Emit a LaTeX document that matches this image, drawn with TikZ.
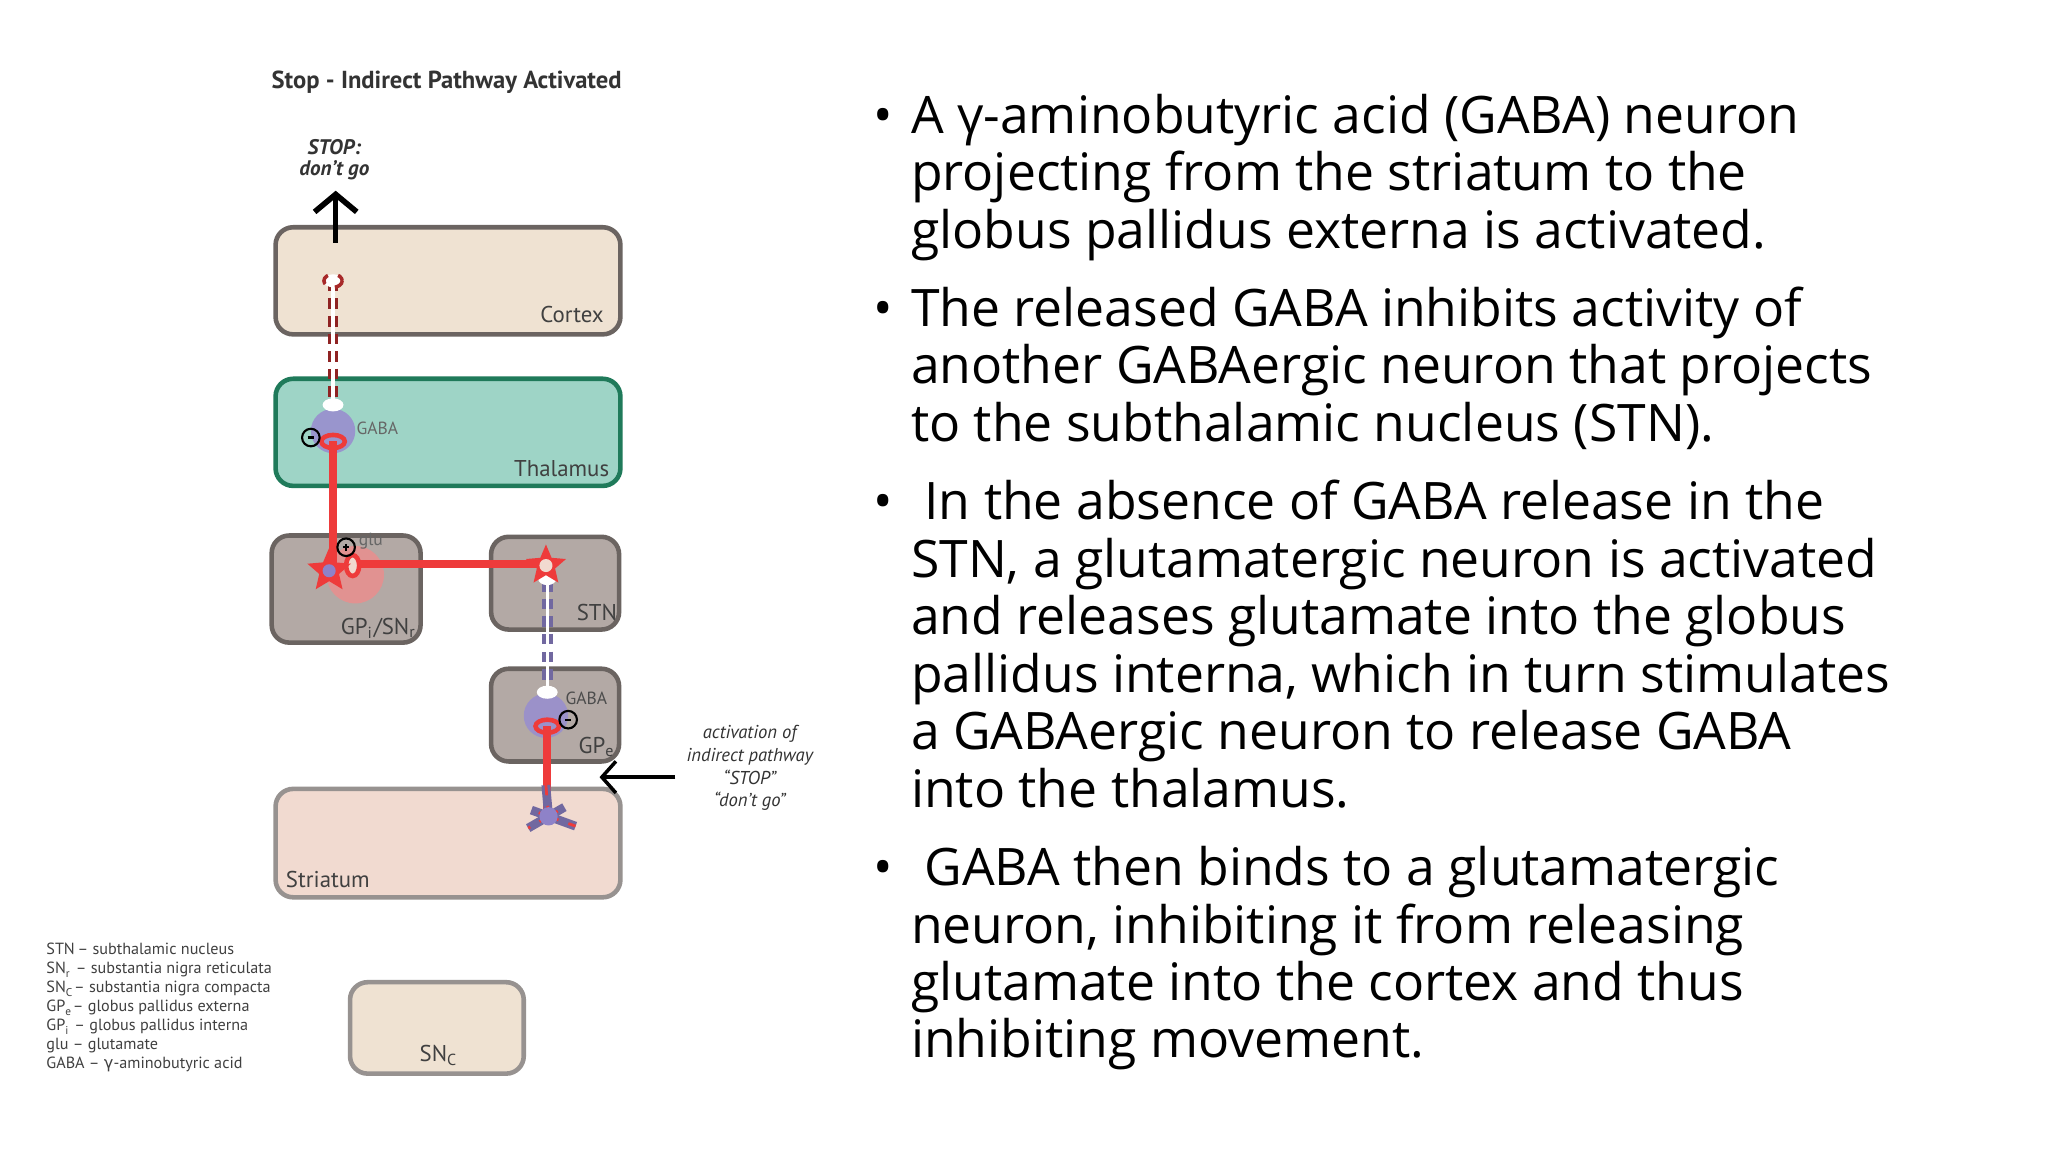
\documentclass[tikz,border=0pt]{standalone}
\usepackage{fontspec}
\setmainfont{Open Sans}
\newfontfamily\dfont{PT Sans}
\newfontfamily\gfont{DejaVu Sans}
\usetikzlibrary{shapes.geometric,arrows.meta}
\definecolor{bord}{HTML}{6B6461}
\definecolor{beige}{HTML}{EFE2D2}
\definecolor{teal1}{HTML}{9ED4C6}
\definecolor{teal2}{HTML}{1F7A5A}
\definecolor{grayb}{HTML}{B3A9A5}
\definecolor{pinkb}{HTML}{F1DAD0}
\definecolor{nred}{HTML}{EE3B3B}
\definecolor{npurp}{HTML}{8E82C8}
\begin{document}
\begin{tikzpicture}[x=0.013061cm,y=-0.013061cm,
 box/.style={draw=bord,line width=1.3pt,rounded corners=5pt},
 lab/.style={font=\dfont\fontsize{6.5}{7}\selectfont,text=black!75},
 leg/.style={font=\dfont\fontsize{4.6}{5}\selectfont,text=black!75,anchor=base west,inner sep=0pt},
 bl/.style={font=\fontsize{14.7}{16}\selectfont,anchor=base west,inner sep=0pt},
 sgn/.style={circle,draw=black,line width=0.6pt,inner sep=0pt,minimum size=5pt}]
\useasboundingbox (0,0) rectangle (1568,882);
\fill[white] (0,0) rectangle (1568,882);
% title
\node[font=\dfont\bfseries\fontsize{7}{8}\selectfont,text=black!80] (title) at (342,63) {Stop - Indirect Pathway Activated};
\node[font=\dfont\bfseries\itshape\fontsize{6}{7}\selectfont,align=center,text=black!80] (stop) at (256,122) {STOP:\\[-1pt]don’t go};
% boxes
\path[box,fill=beige] (211,174) rectangle (475,256);
\path[box,fill=teal1,draw=teal2] (211,290) rectangle (475,372);
\path[box,fill=grayb] (208,410) rectangle (322,492);
\path[box,fill=grayb] (376,411) rectangle (474,482);
\path[box,fill=grayb] (376,512) rectangle (474,583);
\path[box,fill=pinkb,draw=bord!70] (211,604) rectangle (475,687);
\path[box,fill=beige,draw=bord!70] (268,752) rectangle (401,822);
\node[lab] (lc) at (438,241) {Cortex};
\node[lab] (lt) at (430,359) {Thalamus};
\node[lab] (lg) at (290,481) {GP\textsubscript{i}/SN\textsubscript{r}};
\node[lab] (ls) at (457,469) {STN};
\node[lab] (le) at (457,572) {GP\textsubscript{e}};
\node[lab] (lst) at (251,673) {Striatum};
\node[lab] (lsn) at (336,808) {SN\textsubscript{C}};
% arrow up
\coordinate (au1) at (257,186); \coordinate (au2) at (257,146);
\draw[line width=1.6pt,-{Straight Barb[length=5pt,width=12pt]}] (au1) -- (au2);
% neurons
\fill[nred!60,opacity=0.7] (272,440) circle (22);
\fill[npurp!90,opacity=0.9] (255,330) circle (17);
\fill[npurp!90,opacity=0.9] (418,548) circle (17);
\coordinate (t1) at (255,215); \coordinate (t2) at (255,312);
\draw[nred!60!black,line width=3pt,dash pattern=on 3pt off 2pt] (t1) -- (t2);
\draw[white,line width=1pt] (t1) -- (t2);
\draw[nred!70!black,dashed,line width=1pt,fill=white] (255,215) ellipse (7 and 5);
\fill[white] (255,310) ellipse (8 and 5);
\coordinate (s1) at (419,445); \coordinate (s2) at (419,528);
\draw[npurp!80!black,line width=3pt,dash pattern=on 3pt off 2pt] (s1) -- (s2);
\draw[white,line width=1pt] (s1) -- (s2);
\fill[white] (419,530) ellipse (8 and 5);
\fill[white] (419,443) ellipse (7 and 5);
\coordinate (r1) at (255,338); \coordinate (r2) at (255,437);
\coordinate (h1) at (268,432); \coordinate (h2) at (416,432);
\coordinate (g1) at (419,556); \coordinate (g2) at (419,625);
\draw[nred,line width=2.4pt] (r1) -- (r2);
\draw[nred,line width=2.4pt] (h1) -- (h2);
\draw[nred,line width=2.4pt] (g1) -- (g2);
\draw[nred,line width=1.3pt] (255,338) ellipse (9 and 5);
\draw[nred,line width=1.3pt] (419,556) ellipse (9 and 5);
\draw[nred,line width=1.3pt,fill=pinkb] (270,433) ellipse (5 and 8);
\node[star,star points=5,star point ratio=2.2,fill=nred,minimum size=13pt,inner sep=0pt] (st1) at (252,437) {};
\fill[npurp] (252,437) circle (5);
\node[star,star points=5,star point ratio=2.2,fill=nred,minimum size=12pt,inner sep=0pt] (st2) at (418,433) {};
\fill[pinkb] (418,433) circle (5);
% striatum neuron
\foreach \a/\l in {20/22,150/18,200/14,265/24,330/14}{\draw[npurp!80!black,line width=2.5pt] (420,625) -- ++(\a:\l);\draw[nred,line width=0.8pt,dashed] (420,625) -- ++(\a:\l);}
\fill[npurp] (420,625) circle (7);
% signs
\node[sgn] (m1) at (238,335) {}; \draw[line width=0.6pt] (235.5,335) -- (240.5,335);
\node[sgn] (p1) at (265,419) {}; \draw[line width=0.6pt] (262.5,419) -- (267.5,419) (265,416.5) -- (265,421.5);
\node[sgn] (m2) at (435,551) {}; \draw[line width=0.6pt] (432.5,551) -- (437.5,551);
\node[lab,font=\dfont\fontsize{5}{6}\selectfont,text=black!60] (ga1) at (289,328) {GABA};
\node[lab,font=\dfont\fontsize{5}{6}\selectfont,text=black!60] (glu) at (284,414) {glu};
\node[lab,font=\dfont\fontsize{5}{6}\selectfont,text=black!70] (ga2) at (449,535) {GABA};
% side arrow
\coordinate (sa1) at (517,595); \coordinate (sa2) at (459,595);
\draw[line width=1pt,-{Straight Barb[length=4pt,width=9pt]}] (sa1) -- (sa2);
\node[font=\dfont\itshape\fontsize{5.3}{6.5}\selectfont,align=center,text=black!80] (act) at (574,588) {activation of\\indirect pathway\\“STOP”\\“don’t go”};
% legend
\node[leg] at (35,731) {STN\,– subthalamic nucleus};
\node[leg] at (35,745.5) {SN\textsubscript{r} – substantia nigra reticulata};
\node[leg] at (35,760) {SN\textsubscript{C}– substantia nigra compacta};
\node[leg] at (35,774.5) {GP\textsubscript{e}– globus pallidus externa};
\node[leg] at (35,789) {GP\textsubscript{i} – globus pallidus interna};
\node[leg] at (35,803.5) {glu – glutamate};
\node[leg] at (35,818) {GABA – {\gfont γ}-aminobutyric acid};
% bullets
\foreach \y in {90,238,386,666}{\node[bl] at (668,\y+12) {•};}
\foreach \y/\t in {90/{A γ-aminobutyric acid (GABA) neuron},134/{projecting from the striatum to the},178/{globus pallidus externa is activated.},
238/{The released GABA inhibits activity of},282/{another GABAergic neuron that projects},326/{to the subthalamic nucleus (STN).},
386/{\ In the absence of GABA release in the},430/{STN, a glutamatergic neuron is activated},474/{and releases glutamate into the globus},518/{pallidus interna, which in turn stimulates},562/{a GABAergic neuron to release GABA},606/{into the thalamus.},
666/{\ GABA then binds to a glutamatergic},710/{neuron, inhibiting it from releasing},754/{glutamate into the cortex and thus},798/{inhibiting movement.}}
{\node[bl] at (697,\y+12) {\t};}
\end{tikzpicture}
\end{document}
